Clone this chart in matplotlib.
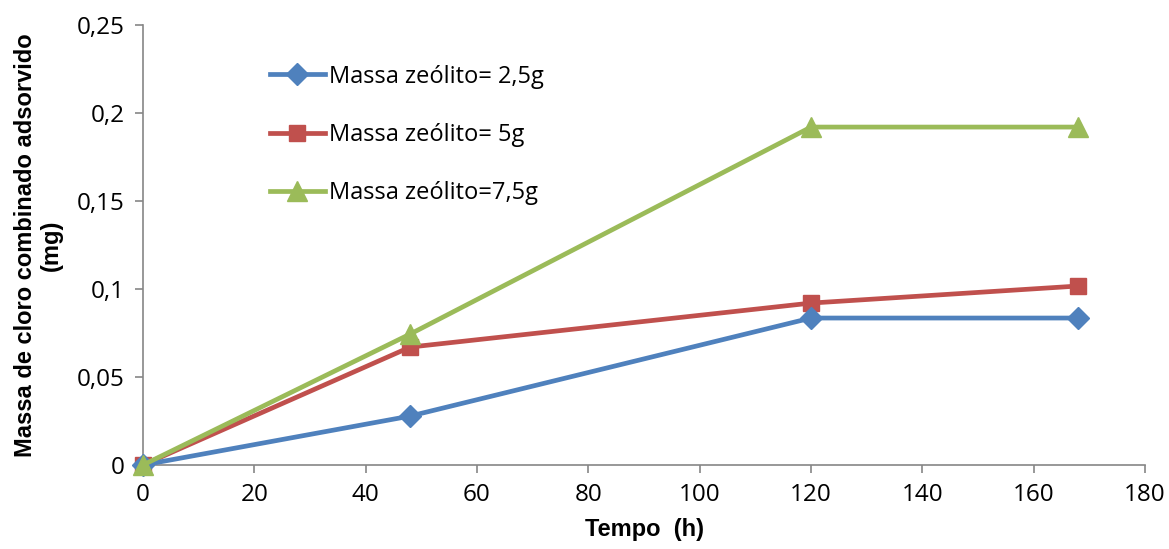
import matplotlib.pyplot as plt

tempo = [0, 48, 120, 168]
massa_25 = [0, 0.0278, 0.0835, 0.0835]
massa_5 = [0, 0.067, 0.092, 0.1017]
massa_75 = [0, 0.0744, 0.192, 0.192]

y_ticks = [0, 0.05, 0.1, 0.15, 0.2, 0.25]
y_labels = ["0", "0,05", "0,1", "0,15", "0,2", "0,25"]
x_ticks = [0, 20, 40, 60, 80, 100, 120, 140, 160, 180]

fig = plt.figure(figsize=(11.69, 5.49), dpi=100)
ax = fig.add_axes([0.1223, 0.153, 0.8572, 0.8015])

ax.plot(tempo, massa_5, color="#C0504D", lw=3.4, marker="s", ms=12,
        label="Massa zeólito= 5g", zorder=3, clip_on=False)
ax.plot(tempo, massa_25, color="#4F81BD", lw=3.4, marker="D", ms=11,
        label="Massa zeólito= 2,5g", zorder=3, clip_on=False)
ax.plot(tempo, massa_75, color="#9BBB59", lw=3.4, marker="^", ms=14,
        label="Massa zeólito=7,5g", zorder=4, clip_on=False)

ax.set_xlim(0, 180)
ax.set_ylim(0, 0.25)
ax.set_xticks(x_ticks)
ax.set_yticks(y_ticks)
ax.set_yticklabels(y_labels)

for s in ["top", "right"]:
    ax.spines[s].set_visible(False)
for s in ["left", "bottom"]:
    ax.spines[s].set_color("#868686")
    ax.spines[s].set_linewidth(1.2)
ax.tick_params(direction="out", length=6, width=1.2, color="#868686",
               labelsize=17.5, pad=7)
for lbl in ax.get_xticklabels() + ax.get_yticklabels():
    lbl.set_family("Open Sans")

ax.set_xlabel("Tempo  (h)", fontsize=17, fontweight="bold",
              family="Liberation Sans", labelpad=8)
ax.set_ylabel("Massa de cloro combinado adsorvido\n(mg)", fontsize=17,
              fontweight="bold", family="Liberation Sans", labelpad=10,
              linespacing=1.15)

handles, labels = ax.get_legend_handles_labels()
order = [1, 0, 2]
ax.legend([handles[i] for i in order], [labels[i] for i in order],
          loc="upper left", bbox_to_anchor=(0.127, 0.91), frameon=False,
          prop={"family": "Open Sans", "size": 17}, handlelength=2.3,
          handletextpad=0.2, labelspacing=1.45, borderaxespad=0,
          borderpad=0)

fig.savefig("out.png", dpi=100)
